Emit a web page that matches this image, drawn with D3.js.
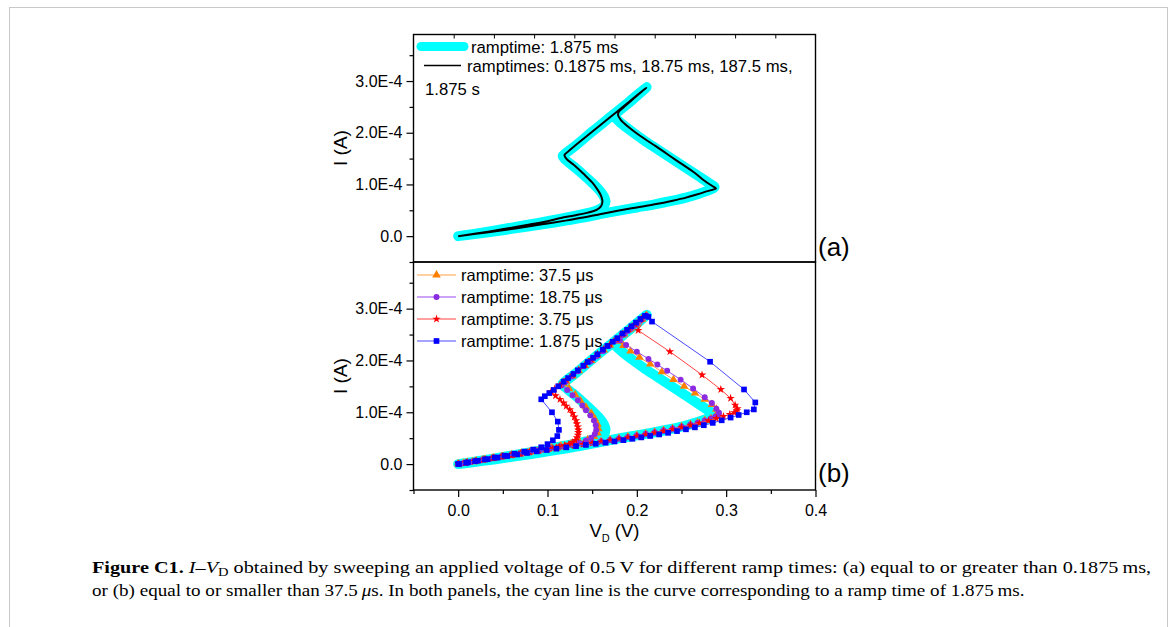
<!DOCTYPE html>
<html>
<head>
<meta charset="utf-8">
<script src="https://d3js.org/d3.v7.min.js"></script>
<style>
  body { margin: 0; background: #fff; }
  svg text { font-family: "Liberation Sans", Arial, sans-serif; fill: #000; }
  svg .caption text { font-family: "Liberation Serif", "Times New Roman", serif; }
</style>
</head>
<body>
<div id="chart"></div>
<script>
const width = 1171;
const height = 627;

// axis ticks (V in volts, I in units of 1e-4 A)
const vTicks = [0, 0.1, 0.2, 0.3, 0.4];
const vMinorTicks = [-0.05, 0.05, 0.15, 0.25, 0.35];
const iTicks = [0, 1, 2, 3];
const iTickLabels = ['0.0', '1.0E-4', '2.0E-4', '3.0E-4'];
const iMinorTicks = [-0.5, 0.5, 1.5, 2.5, 3.5];
const topAxisDivs = [1, 2, 3, 4, 5, 6, 7, 8, 9];

// panel (a) / (b): cyan reference curve, ramptime 1.875 ms  [V, I/1e-4]
const cyan1875ms = [
  [0.000,0.000],[0.020,0.045],[0.040,0.090],[0.060,0.140],[0.080,0.190],[0.100,0.245],
  [0.120,0.300],[0.140,0.360],[0.160,0.430],[0.180,0.495],[0.200,0.555],[0.220,0.615],
  [0.240,0.685],[0.255,0.745],[0.268,0.810],[0.278,0.870],[0.285,0.920],[0.287,0.950],
  [0.283,1.000],[0.270,1.150],[0.255,1.320],[0.240,1.490],[0.225,1.660],[0.210,1.830],
  [0.197,1.990],[0.187,2.120],[0.180,2.220],[0.176,2.300],[0.178,2.390],[0.182,2.450],
  [0.196,2.650],[0.211,2.880],
  [0.190,2.580],[0.170,2.300],[0.150,2.020],[0.130,1.730],[0.120,1.600],[0.117,1.550],
  [0.120,1.480],[0.130,1.340],[0.140,1.190],[0.150,1.030],[0.158,0.890],[0.163,0.770],
  [0.165,0.670],[0.163,0.580],[0.157,0.510],[0.147,0.455],[0.133,0.400],[0.118,0.350],
  [0.100,0.290],[0.080,0.225],[0.060,0.165],[0.040,0.105],[0.020,0.050],[0.000,0.000]
];

// panel (a): black, ramptimes 0.1875 ms .. 1.875 s (overlapping)
const blackSlow = [
  [0.000,0.000],[0.020,0.045],[0.040,0.090],[0.060,0.140],[0.080,0.190],[0.100,0.245],
  [0.120,0.300],[0.140,0.360],[0.160,0.430],[0.180,0.495],[0.200,0.555],[0.220,0.615],
  [0.240,0.685],[0.255,0.745],[0.268,0.810],[0.279,0.870],[0.286,0.905],[0.2885,0.925],
  [0.284,0.975],[0.275,1.080],[0.265,1.220],[0.243,1.480],[0.222,1.730],[0.202,1.960],
  [0.190,2.120],[0.182,2.250],[0.179,2.340],[0.180,2.410],[0.183,2.460],
  [0.197,2.670],[0.2105,2.870],
  [0.190,2.580],[0.170,2.300],[0.150,2.020],[0.130,1.740],[0.122,1.620],[0.119,1.570],
  [0.121,1.500],[0.130,1.370],[0.140,1.210],[0.150,1.040],[0.156,0.900],[0.160,0.780],
  [0.1615,0.670],[0.160,0.580],[0.155,0.510],[0.145,0.455],[0.130,0.400],[0.115,0.350],
  [0.100,0.290],[0.080,0.225],[0.060,0.165],[0.040,0.105],[0.020,0.050],[0.002,0.004]
];

// panel (b): ramptime 37.5 us
const orange375us = [
  [0.000,0.004],[0.010,0.032],[0.020,0.060],[0.030,0.088],[0.040,0.116],[0.050,0.144],
  [0.060,0.172],[0.070,0.200],[0.080,0.228],[0.090,0.255],[0.100,0.281],[0.110,0.307],
  [0.120,0.333],[0.130,0.359],[0.140,0.385],[0.150,0.411],[0.160,0.438],[0.170,0.465],
  [0.180,0.493],[0.190,0.522],[0.200,0.552],[0.210,0.583],[0.220,0.615],[0.230,0.649],
  [0.240,0.685],[0.250,0.723],[0.260,0.764],[0.268,0.800],[0.276,0.840],[0.283,0.880],
  [0.288,0.920],[0.2905,0.950],
  [0.291,0.990],[0.289,1.060],[0.284,1.150],[0.276,1.250],[0.265,1.370],[0.253,1.500],
  [0.241,1.630],[0.228,1.780],[0.215,1.930],[0.203,2.060],[0.193,2.180],[0.185,2.290],
  [0.180,2.370],
  [0.186,2.510],[0.193,2.610],[0.200,2.710],[0.206,2.800],[0.211,2.870],
  [0.205,2.790],[0.198,2.690],[0.191,2.590],[0.184,2.490],[0.177,2.390],[0.170,2.300],
  [0.163,2.200],[0.156,2.100],[0.149,2.000],[0.142,1.900],[0.135,1.800],[0.128,1.700],
  [0.121,1.600],[0.118,1.550],
  [0.124,1.460],[0.131,1.340],[0.137,1.220],[0.143,1.100],[0.149,0.980],[0.153,0.870],
  [0.156,0.770],[0.157,0.680],[0.156,0.600],[0.152,0.530],[0.145,0.470],[0.136,0.420],
  [0.126,0.385],[0.115,0.350],[0.104,0.315],
  [0.093,0.280],[0.082,0.245],[0.071,0.210],[0.060,0.177],[0.049,0.144],[0.038,0.111],
  [0.027,0.078],[0.016,0.046],[0.006,0.017]
];

// panel (b): ramptime 18.75 us
const purple1875us = [
  [0.000,0.005],[0.010,0.033],[0.020,0.061],[0.030,0.089],[0.040,0.117],[0.050,0.145],
  [0.060,0.173],[0.070,0.201],[0.080,0.229],[0.090,0.256],[0.100,0.282],[0.110,0.308],
  [0.120,0.334],[0.130,0.360],[0.140,0.386],[0.150,0.412],[0.160,0.439],[0.170,0.466],
  [0.180,0.494],[0.190,0.523],[0.200,0.553],[0.210,0.584],[0.220,0.616],[0.230,0.650],
  [0.240,0.686],[0.250,0.724],[0.260,0.765],[0.268,0.800],[0.276,0.840],[0.283,0.880],
  [0.288,0.920],[0.291,0.950],
  [0.292,0.990],[0.289,1.070],[0.284,1.180],[0.276,1.290],[0.263,1.460],[0.249,1.630],
  [0.234,1.800],[0.223,1.920],[0.213,2.030],[0.200,2.170],[0.188,2.300],[0.181,2.390],
  [0.186,2.510],[0.193,2.610],[0.200,2.710],[0.206,2.800],[0.211,2.870],
  [0.204,2.770],[0.197,2.670],[0.190,2.570],[0.183,2.480],[0.176,2.380],[0.169,2.280],
  [0.162,2.180],[0.155,2.080],[0.148,1.980],[0.141,1.890],[0.134,1.790],[0.127,1.690],
  [0.120,1.590],[0.116,1.520],
  [0.122,1.430],[0.128,1.330],[0.134,1.230],[0.139,1.130],[0.143,1.040],[0.148,0.940],
  [0.152,0.840],[0.154,0.750],[0.1545,0.660],[0.153,0.580],[0.149,0.510],[0.143,0.455],
  [0.135,0.410],[0.125,0.375],[0.114,0.340],[0.103,0.305],
  [0.092,0.270],[0.081,0.238],[0.070,0.205],[0.059,0.173],[0.048,0.141],[0.037,0.108],
  [0.026,0.076],[0.015,0.044],[0.005,0.015]
];

// panel (b): ramptime 3.75 us
const red375us = [
  [0.000,0.005],[0.010,0.035],[0.020,0.062],[0.030,0.090],[0.040,0.118],[0.050,0.146],
  [0.060,0.174],[0.070,0.202],[0.080,0.230],[0.090,0.257],[0.100,0.283],[0.110,0.308],
  [0.120,0.333],[0.130,0.357],[0.140,0.381],[0.150,0.405],[0.160,0.430],[0.170,0.456],
  [0.180,0.483],[0.190,0.511],[0.200,0.540],[0.210,0.570],[0.220,0.602],[0.230,0.636],
  [0.240,0.672],[0.250,0.710],[0.260,0.750],[0.270,0.793],[0.280,0.838],[0.289,0.880],
  [0.297,0.922],[0.304,0.960],[0.309,0.995],[0.312,1.030],
  [0.3125,1.070],[0.310,1.140],[0.305,1.270],[0.294,1.440],[0.273,1.720],[0.237,2.170],
  [0.2015,2.580],[0.210,2.860],
  [0.205,2.800],[0.198,2.700],[0.191,2.600],[0.184,2.510],[0.177,2.410],[0.170,2.310],
  [0.163,2.220],[0.156,2.120],[0.149,2.020],[0.142,1.920],[0.135,1.820],[0.128,1.720],
  [0.121,1.630],[0.114,1.530],[0.108,1.450],[0.104,1.400],
  [0.109,1.320],[0.114,1.250],[0.118,1.180],[0.121,1.120],[0.125,1.050],[0.128,0.980],
  [0.130,0.910],[0.132,0.840],[0.133,0.780],[0.134,0.720],[0.1345,0.660],[0.1345,0.610],
  [0.134,0.560],[0.133,0.510],[0.131,0.460],[0.128,0.420],[0.124,0.385],[0.119,0.360],
  [0.113,0.335],[0.106,0.310],[0.098,0.285],
  [0.088,0.258],[0.078,0.230],[0.068,0.202],[0.058,0.172],[0.048,0.142],[0.038,0.112],
  [0.028,0.083],[0.018,0.053],[0.008,0.024],[0.001,0.004]
];

// panel (b): ramptime 1.875 us
const blue1875us = [
  [0.000,0.005],[0.011,0.035],[0.022,0.065],[0.033,0.095],[0.044,0.125],[0.055,0.155],
  [0.066,0.185],[0.077,0.215],[0.088,0.245],[0.099,0.272],[0.110,0.298],[0.121,0.323],
  [0.132,0.347],[0.143,0.370],[0.154,0.392],[0.165,0.414],[0.175,0.437],[0.185,0.462],
  [0.195,0.488],[0.205,0.515],[0.215,0.543],[0.225,0.572],[0.235,0.603],[0.245,0.636],
  [0.255,0.671],[0.265,0.709],[0.275,0.750],[0.285,0.795],[0.295,0.845],[0.305,0.898],
  [0.314,0.948],[0.323,1.000],[0.331,1.055],
  [0.3326,1.190],[0.320,1.440],[0.282,1.975],[0.217,2.750],[0.213,2.840],
  [0.209,2.860],[0.204,2.800],[0.199,2.730],[0.194,2.660],[0.189,2.590],[0.184,2.520],
  [0.178,2.430],[0.173,2.360],[0.167,2.280],[0.162,2.210],[0.156,2.120],[0.151,2.050],
  [0.145,1.970],[0.140,1.900],[0.134,1.810],[0.129,1.740],[0.123,1.660],[0.118,1.590],
  [0.112,1.500],[0.107,1.430],[0.102,1.370],[0.097,1.310],[0.093,1.250],
  [0.105,1.000],[0.1115,0.820],[0.1128,0.660],[0.111,0.540],[0.106,0.460],[0.100,0.385],
  [0.093,0.325],[0.084,0.280],
  [0.074,0.240],[0.063,0.200],[0.052,0.163],[0.041,0.127],[0.030,0.091],[0.019,0.057],
  [0.009,0.025],[0.001,0.003]
];

const legendA = ['ramptime: 1.875 ms', 'ramptimes: 0.1875 ms, 18.75 ms, 187.5 ms,', '1.875 s'];
const legendB = ['ramptime: 37.5 \u03bcs', 'ramptime: 18.75 \u03bcs', 'ramptime: 3.75 \u03bcs', 'ramptime: 1.875 \u03bcs'];

const markerSeries = [
  { data: orange375us, color: '#ff8000', line: '#ffa040', symbol: d3.symbolTriangle, size: 32 },
  { data: purple1875us, color: '#8a2be2', line: '#9a4af0', symbol: d3.symbolCircle, size: 28 },
  { data: red375us, color: '#ff0000', line: '#ff4040', symbol: d3.symbolStar, size: 22 },
  { data: blue1875us, color: '#0000ff', line: '#4a4aff', symbol: d3.symbolSquare, size: 32 }
];

const left = 413.5, right = 815.5;

const svg = d3.select('#chart').append('svg')
  .attr('width', width).attr('height', height);

svg.append('rect')
  .attr('x', 9.5).attr('y', 7.5)
  .attr('width', 1158).attr('height', 640)
  .attr('fill', 'none').attr('stroke', '#c8c8c8');

const x = d3.scaleLinear().domain([-0.05, 0.4]).range([left, right]);
const yA = d3.scaleLinear().domain([-0.5, 3.9]).range([262, 34.5]);
const yB = d3.scaleLinear().domain([-0.5, 3.9]).range([490, 262]);

function yAxis(y) {
  let g = svg.append('g').attr('transform', `translate(${left},0)`);
  g.call(d3.axisLeft(y).tickValues(iTicks).tickFormat((d, i) => iTickLabels[i]).tickSize(7).tickPadding(4));
  g.select('.domain').remove();
  g.selectAll('text').attr('font-size', 16).attr('font-family', null);
  g.selectAll('line').attr('stroke-width', 1.2);
  let m = svg.append('g').attr('transform', `translate(${left},0)`);
  m.call(d3.axisLeft(y).tickValues(iMinorTicks).tickFormat('').tickSize(4));
  m.select('.domain').remove();
  m.selectAll('line').attr('stroke-width', 1.2);
}

function panelFrame(y0, y1) {
  svg.append('rect')
    .attr('x', left).attr('y', y0)
    .attr('width', right - left).attr('height', y1 - y0)
    .attr('fill', 'none').attr('stroke', '#000').attr('stroke-width', 1.4);
}

const smooth = d3.curveCatmullRom.alpha(0.5);

// ---------- panel (a)
yAxis(yA);
let lineA = d3.line().x(d => x(d[0])).y(d => yA(d[1])).curve(smooth);
svg.append('path').attr('d', lineA(cyan1875ms))
  .attr('fill', 'none').attr('stroke', '#00ffff').attr('stroke-width', 10)
  .attr('stroke-linejoin', 'round').attr('stroke-linecap', 'round');
svg.append('path').attr('d', lineA(blackSlow))
  .attr('fill', 'none').attr('stroke', '#000').attr('stroke-width', 2)
  .attr('stroke-linejoin', 'round');

// top inner ticks
const divScale = d3.scaleLinear().domain([0, 10]).range([left, right]);
let tg = svg.append('g').attr('transform', 'translate(0,34.5)');
tg.call(d3.axisBottom(divScale).tickValues(topAxisDivs).tickFormat('').tickSize(4));
tg.select('.domain').remove();

// legend (a)
svg.append('line').attr('x1', 421).attr('x2', 464).attr('y1', 46.5).attr('y2', 46.5)
  .attr('stroke', '#00ffff').attr('stroke-width', 9).attr('stroke-linecap', 'round');
svg.append('line').attr('x1', 424).attr('x2', 461).attr('y1', 65.5).attr('y2', 65.5)
  .attr('stroke', '#000').attr('stroke-width', 1.5);
svg.append('text').attr('x', 471).attr('y', 52.5).attr('font-size', 16.7).text(legendA[0]);
svg.append('text').attr('x', 467).attr('y', 71.5).attr('font-size', 16.7).text(legendA[1]);
svg.append('text').attr('x', 425).attr('y', 94.5).attr('font-size', 16.7).text(legendA[2]);

panelFrame(34.5, 262);

// ---------- panel (b)
yAxis(yB);
let lineB = d3.line().x(d => x(d[0])).y(d => yB(d[1]));
svg.append('path').attr('d', lineB.curve(smooth)(cyan1875ms))
  .attr('fill', 'none').attr('stroke', '#00ffff').attr('stroke-width', 10)
  .attr('stroke-linejoin', 'round').attr('stroke-linecap', 'round');
lineB.curve(d3.curveLinear);

markerSeries.forEach(s => {
  svg.append('path').attr('d', lineB(s.data))
    .attr('fill', 'none').attr('stroke', s.line).attr('stroke-width', 1);
  svg.append('g').selectAll('path')
    .data(s.data)
    .enter()
    .append('path')
    .attr('d', d3.symbol().type(s.symbol).size(s.size))
    .attr('transform', d => `translate(${x(d[0])},${yB(d[1])})`)
    .attr('fill', s.color);
});

// legend (b)
markerSeries.forEach((s, i) => {
  let ly = 275 + i * 22;
  svg.append('line').attr('x1', 417).attr('x2', 456).attr('y1', ly).attr('y2', ly)
    .attr('stroke', s.line).attr('stroke-width', 1);
  svg.append('path').attr('d', d3.symbol().type(s.symbol).size(s.size))
    .attr('transform', `translate(436.5,${ly})`).attr('fill', s.color);
  svg.append('text').attr('x', 461).attr('y', ly + 6).attr('font-size', 16.5).text(legendB[i]);
});

panelFrame(262, 490);

// x axis
let xg = svg.append('g').attr('transform', 'translate(0,490)');
xg.call(d3.axisBottom(x).tickValues(vTicks).tickFormat(d3.format('.1f')).tickSize(7).tickPadding(8));
xg.select('.domain').remove();
xg.selectAll('text').attr('font-size', 16).attr('font-family', null);
xg.selectAll('line').attr('stroke-width', 1.2);
let xm = svg.append('g').attr('transform', 'translate(0,490)');
xm.call(d3.axisBottom(x).tickValues(vMinorTicks).tickFormat('').tickSize(4));
xm.select('.domain').remove();
xm.selectAll('line').attr('stroke-width', 1.2);

// axis titles
let xt = svg.append('text').attr('x', 614.5).attr('y', 537).attr('text-anchor', 'middle').attr('font-size', 18.5);
xt.append('tspan').text('V');
xt.append('tspan').attr('dy', 5).attr('font-size', 11).text('D');
xt.append('tspan').attr('dy', -5).text(' (V)');

[[yA, 148], [yB, 376]].forEach(p => {
  svg.append('text')
    .attr('transform', `translate(347,${p[1]}) rotate(-90)`)
    .attr('text-anchor', 'middle').attr('font-size', 19)
    .text('I (A)');
});

svg.append('text').attr('x', 818).attr('y', 256).attr('font-size', 26).text('(a)');
svg.append('text').attr('x', 818).attr('y', 482).attr('font-size', 26).text('(b)');

// ---------- caption (narrow serif look: squeeze each line to its width)
const cap = svg.append('g').attr('class', 'caption');
let g1 = cap.append('g');
let c1 = g1.append('text').attr('font-size', 17);
c1.append('tspan').attr('font-weight', 'bold').text('Figure C1.');
c1.append('tspan').text(' ');
c1.append('tspan').attr('font-style', 'italic').text('I');
c1.append('tspan').text('\u2013');
c1.append('tspan').attr('font-style', 'italic').text('V');
c1.append('tspan').attr('dy', 3).attr('font-size', '0.72em').text('D');
c1.append('tspan').attr('dy', -3).text(' obtained by sweeping an applied voltage of 0.5\u2009V for different ramp times: (a) equal to or greater than 0.1875\u2009ms,');

let g2 = cap.append('g');
let c2 = g2.append('text').attr('font-size', 17);
c2.append('tspan').text('or (b) equal to or smaller than 37.5\u2009');
c2.append('tspan').attr('font-style', 'italic').text('\u03bc');
c2.append('tspan').text('s. In both panels, the cyan line is the curve corresponding to a ramp time of 1.875\u2009ms.');

g1.attr('transform', `translate(92,573) scale(${1060 / c1.node().getComputedTextLength()},1)`);
g2.attr('transform', `translate(92,596) scale(${933 / c2.node().getComputedTextLength()},1)`);
</script>
</body>
</html>
